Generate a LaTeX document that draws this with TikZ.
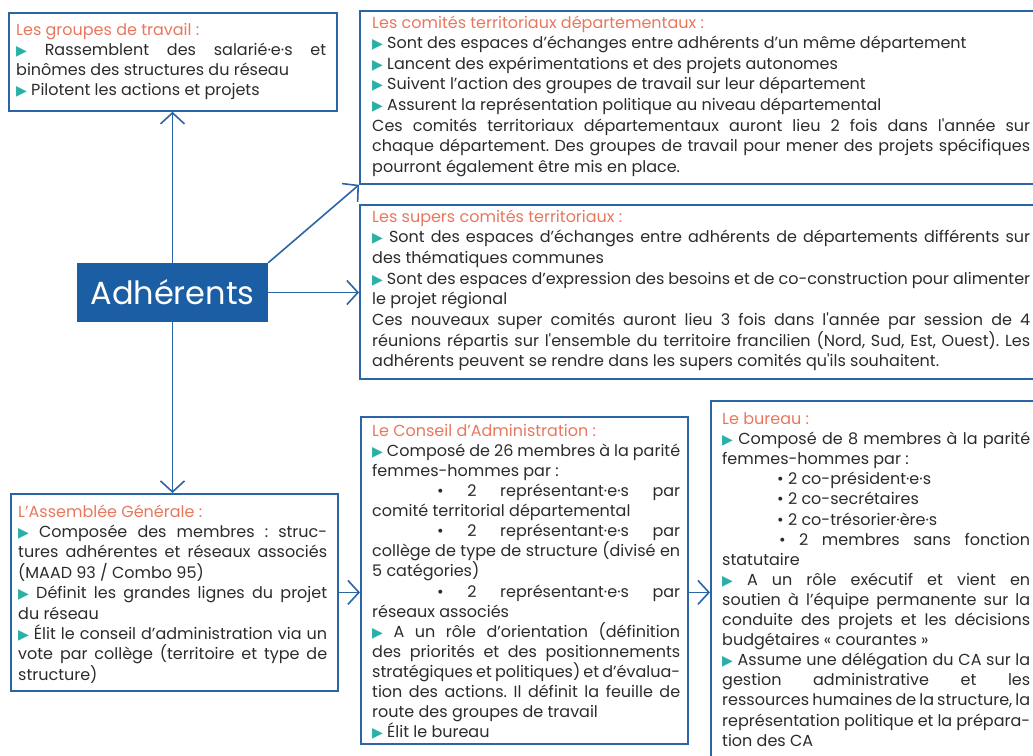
\documentclass[tikz,border=0pt]{standalone}
\usepackage{fontspec}
\setmainfont{Poppins}
\newfontfamily\symfont{DejaVu Sans}
\usetikzlibrary{arrows.meta,calc}
\frenchspacing
\definecolor{bord}{HTML}{2C64A8}
\definecolor{adhc}{HTML}{1B5EA3}
\definecolor{titc}{HTML}{E8775E}
\definecolor{tric}{HTML}{2BB0A6}
\definecolor{txtc}{HTML}{2B2B2B}
\newcommand\tribul{\textcolor{tric}{\symfont\fontsize{14}{14}\selectfont ▶}}
\newcommand\J[1]{\makebox[\linewidth][s]{#1}}
\newcommand\T[1]{\leavevmode{\color{titc}#1}}
\tikzset{
  boxst/.style={draw=bord, line width=1.8pt, anchor=north west, inner sep=0pt},
  txtst/.style={anchor=base west, inner sep=0pt, text=txtc},
  conn/.style={draw=bord, line width=1.6pt, -{Straight Barb[length=11pt,width=24pt]}},
}
\newcommand\bodyfont[1]{\fontsize{16}{#1}\selectfont\setlength\parindent{0pt}\frenchspacing}
\begin{document}
\begin{tikzpicture}[x=1pt,y=-1pt]
\useasboundingbox (0,0) rectangle (1033,755);
% boxes
\node[boxst, minimum width=328pt, minimum height=98pt] (gt) at (8,12) {};
\node[boxst, minimum width=690pt, minimum height=173pt] (ct) at (359,10) {};
\node[boxst, minimum width=690pt, minimum height=174pt] (sc) at (359,204) {};
\node[boxst, minimum width=327pt, minimum height=197pt] (ag) at (10,493) {};
\node[boxst, minimum width=327pt, minimum height=327pt] (ca) at (360,416) {};
\node[boxst, minimum width=340pt, minimum height=370pt] (bu) at (710,400) {};
\node[fill=adhc, text=white, minimum width=191pt, minimum height=59pt, inner sep=0pt,
      font=\fontsize{32}{32}\selectfont] (adh) at (172.5,292.5) {Adhérents};
% connectors
\draw[conn] (adh.north) -- (adh.north |- gt.south);
\draw[conn] (adh.south) -- (adh.south |- ag.north);
\draw[conn] (adh.north east) -- (ct.south west);
\draw[conn] (adh.east) -- (adh.east -| sc.west);
\draw[conn] (ag.east) -- (ag.east -| ca.west);
\draw[conn] (ag.east -| ca.east) -- (ag.east -| bu.west);
% texts
\node[txtst] (tgt) at (16,35) {\parbox[t]{310pt}{\bodyfont{20}%
\T{Les groupes de travail :}\\
\J{\tribul\ Rassemblent des salarié·e·s et}\\
binômes des structures du réseau\\
\tribul\ Pilotent les actions et projets}};
\node[txtst] (tct) at (372,28) {\parbox[t]{658pt}{\bodyfont{20.6}%
\T{Les comités territoriaux départementaux :}\\
\tribul\ Sont des espaces d’échanges entre adhérents d’un même département\\
\tribul\ Lancent des expérimentations et des projets autonomes\\
\tribul\ Suivent l’action des groupes de travail sur leur département\\
\tribul\ Assurent la représentation politique au niveau départemental\\
\J{Ces comités territoriaux départementaux auront lieu 2 fois dans l\textquotesingle année sur}\\
\J{chaque département. Des groupes de travail pour mener des projets spécifiques}\\
pourront également être mis en place.}};
\node[txtst] (tsc) at (372,222) {\parbox[t]{658pt}{\bodyfont{20.7}%
\T{Les supers comités territoriaux :}\\
\J{\tribul\ Sont des espaces d’échanges entre adhérents de départements différents sur}\\
des thématiques communes\\
\J{\tribul\ Sont des espaces d’expression des besoins et de co-construction pour alimenter}\\
le projet régional\\
\J{Ces nouveaux super comités auront lieu 3 fois dans l\textquotesingle année par session de 4}\\
\J{réunions répartis sur l\textquotesingle ensemble du territoire francilien (Nord, Sud, Est, Ouest). Les}\\
adhérents peuvent se rendre dans les supers comités qu\textquotesingle ils souhaitent.}};
\node[txtst] (tag) at (18,517) {\parbox[t]{309pt}{\bodyfont{20.4}%
\T{L’Assemblée Générale :}\\
\J{\tribul\ Composée des membres : struc-}\\
\J{tures adhérentes et réseaux associés}\\
(MAAD 93 / Combo 95)\\
\J{\tribul\ Définit les grandes lignes du projet}\\
du réseau\\
\J{\tribul\ Élit le conseil d’administration via un}\\
\J{vote par collège (territoire et type de}\\
structure)}};
\node[txtst] (tca) at (372,436.5) {\parbox[t]{308pt}{\bodyfont{20.07}%
\T{Le Conseil d’Administration :}\\
\J{\tribul\ Composé de 26 membres à la parité}\\
femmes-hommes par :\\
\J{\hspace*{65pt}• 2 représentant·e·s par}\\
comité territorial départemental\\
\J{\hspace*{65pt}• 2 représentant·e·s par}\\
\J{collège de type de structure (divisé en}\\
5 catégories)\\
\J{\hspace*{65pt}• 2 représentant·e·s par}\\
réseaux associés\\
\J{\tribul\ A un rôle d’orientation (définition}\\
\J{des priorités et des positionnements}\\
\J{stratégiques et politiques) et d’évalua-}\\
\J{tion des actions. Il définit la feuille de}\\
route des groupes de travail\\
\tribul\ Élit le bureau}};
\node[txtst] (tbu) at (722,424.5) {\parbox[t]{308pt}{\bodyfont{20.1}%
\T{Le bureau :}\\
\J{\tribul\ Composé de 8 membres à la parité}\\
femmes-hommes par :\\
\hspace*{55pt}• 2 co-président·e·s\\
\hspace*{55pt}• 2 co-secrétaires\\
\hspace*{55pt}• 2 co-trésorier·ère·s\\
\J{\hspace*{57pt}• 2 membres sans fonction}\\
statutaire\\
\J{\tribul\ A un rôle exécutif et vient en}\\
\J{soutien à l’équipe permanente sur la}\\
\J{conduite des projets et les décisions}\\
budgétaires « courantes »\\
\J{\tribul\ Assume une délégation du CA sur la}\\
\J{gestion administrative et les}\\
\J{ressources humaines de la structure, la}\\
\J{représentation politique et la prépara-}\\
tion des CA}};
\end{tikzpicture}
\end{document}
